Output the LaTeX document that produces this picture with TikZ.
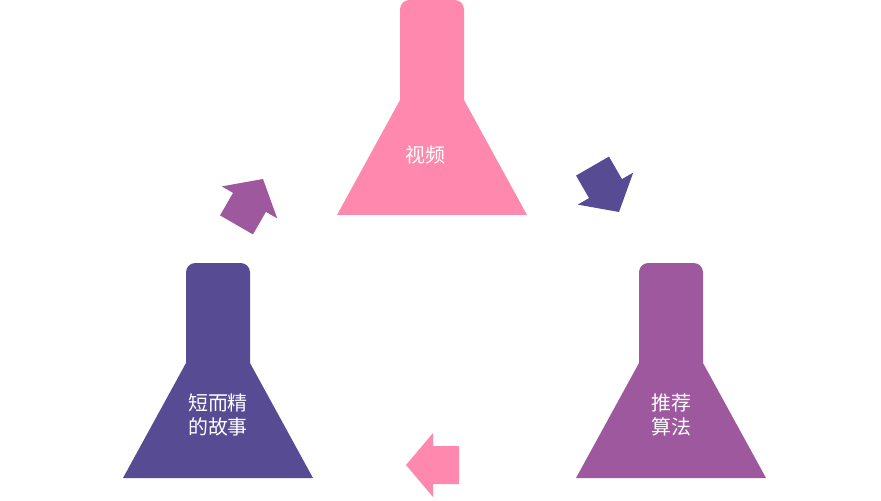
\documentclass[tikz,border=0pt]{standalone}
\usepackage{fontspec}
\newfontfamily\cjk{Noto Sans CJK SC}
\definecolor{cpink}{HTML}{FF88AE}
\definecolor{cdark}{HTML}{574C94}
\definecolor{cpurp}{HTML}{9E589E}
\begin{document}
\begin{tikzpicture}[x=0.03cm,y=0.03cm,
  lbl/.style={text=white,font=\cjk\fontsize{17}{21}\selectfont,align=center,inner sep=0},
  pics/flask/.style={code={
    \fill[#1] (-32,115) [rounded corners=8pt] -- (-32,215) -- (32,215) [sharp corners] -- (32,115) -- (95,0) -- (-95,0) -- cycle;}},
  pics/arr/.style={code={
    \fill[#1] (0,0) -- (-27,32) -- (-27,19) -- (-53,19) -- (-53,-19) -- (-27,-19) -- (-27,-32) -- cycle;}}]
\useasboundingbox (0,0) rectangle (881,500);
\pic at (432,285) {flask=cpink};
\pic at (218,22) {flask=cdark};
\pic at (671,22) {flask=cpurp};
\node[lbl] (t1) at (425,345) {视频};
\node[lbl] (t2) at (218,85) {短而精\\的故事};
\node[lbl] (t3) at (671,85) {推荐\\算法};
\pic[rotate=180] at (406,35) {arr=cpink};
\pic[rotate=-60] at (619,288) {arr=cdark};
\pic[rotate=60] at (263,321) {arr=cpurp};
\end{tikzpicture}
\end{document}
